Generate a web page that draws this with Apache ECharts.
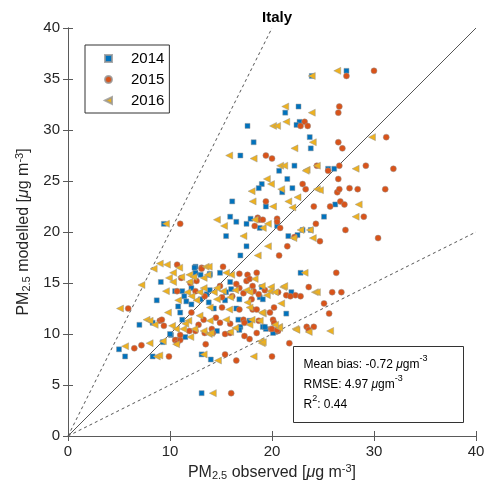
<!DOCTYPE html>
<html>
<head>
<meta charset="utf-8">
<script src="https://cdn.jsdelivr.net/npm/echarts@6/dist/echarts.min.js"></script>
<style>
  html, body { margin: 0; padding: 0; background: #fff; }
  #chart { width: 490px; height: 496px; }
</style>
</head>
<body>
<div id="chart"></div>
<script>
// PM2.5 modelled vs observed, Italy, three years of station data [observed, modelled]
const yearNames = ['2014', '2015', '2016'];

const obs2014 = [
  [27.3,35.8],[23.9,35.3],[22.6,32.3],[21.3,31.7],[22.7,30.8],[22.4,30.5],[23.7,29.3],[23.8,28.2],
  [22.2,26.5],[26.1,26.2],[25.5,26.2],[17.6,30.4],[18.2,28.8],[16.9,27.5],[20.7,26.0],[21.5,25.2],
  [19.0,24.7],[18.7,24.3],[22.0,24.3],[21.0,23.9],[16.1,23.0],[19.4,22.5],[26.2,22.7],[25.1,21.5],
  [15.9,21.5],[16.5,21.0],[17.5,20.8],[17.9,21.3],[18.8,20.4],[20.5,20.6],[23.0,20.2],[23.8,20.2],
  [9.4,20.8],[15.5,19.6],[21.6,19.6],[22.5,19.7],[17.5,18.6],[16.9,17.7],[12.5,16.6],[13.9,15.9],
  [9.1,15.1],[22.8,16.0],[21.9,14.1],[21.4,12.0],[7.0,10.9],[19.1,10.7],[19.4,10.5],[5.0,8.5],
  [5.6,7.8],[8.3,7.8],[9.3,9.2],[10.1,9.9],[11.5,9.7],[13.1,8.0],[14.0,7.5],[13.1,4.2],
  [19.0,14.6],[18.8,13.6],[17.8,11.3],[20.3,10.2],[12.4,16.5],[12.5,16.0],[13.9,15.8],[14.9,16.0],
  [15.9,15.1],[11.2,14.2],[11.4,13.7],[13.6,13.9],[13.9,14.3],[15.5,14.1],[16.0,14.4],[11.6,13.2],
  [12.1,12.9],[13.0,13.4],[13.8,13.1],[15.4,13.3],[16.8,13.4],[19.1,13.4],[14.3,12.5],[16.5,12.5],
  [8.7,13.3],[10.8,12.7],[11.0,12.1],[11.2,11.4],[16.7,11.4],[16.9,10.7],[19.3,10.7],[8.3,11.1],
  [14.6,10.3],[20.1,10.1],[16.8,10.4],[10.5,14.2],[12.1,14.5],[13.0,15.8],[10.0,10.0]
];

const obs2015 = [
  [27.3,35.3],[30.0,35.8],[26.6,32.3],[26.5,31.7],[23.2,30.8],[22.8,30.4],[23.5,30.4],[26.5,28.8],
  [26.9,28.2],[31.2,29.3],[26.6,26.5],[29.2,26.5],[31.9,26.2],[19.4,27.5],[20.0,27.2],[24.4,26.5],
  [25.5,26.0],[26.5,25.2],[23.0,24.7],[23.3,24.2],[26.4,23.9],[26.6,24.2],[27.6,24.3],[28.4,24.2],
  [31.1,24.2],[19.4,23.0],[24.1,22.5],[25.7,22.5],[26.7,23.0],[27.1,22.7],[29.0,21.5],[18.6,21.4],
  [18.8,21.2],[19.1,21.2],[18.3,20.6],[20.5,21.3],[20.5,21.0],[20.8,20.4],[24.3,20.8],[27.2,20.2],
  [11.0,20.8],[30.4,19.4],[22.2,19.5],[24.7,19.1],[21.5,18.6],[20.7,17.7],[10.7,16.8],[13.1,16.5],
  [15.2,16.6],[17.6,15.8],[18.5,16.0],[26.3,16.0],[5.9,12.5],[23.6,14.6],[25.9,14.1],[26.8,14.1],
  [21.4,13.8],[22.3,13.8],[21.8,13.7],[22.8,13.7],[20.2,12.6],[25.1,13.0],[25.6,12.0],[9.0,11.3],
  [10.6,9.4],[13.5,9.0],[19.9,10.5],[17.8,9.5],[21.7,9.1],[23.4,10.7],[23.6,10.4],[24.1,10.7],
  [6.5,8.6],[7.2,8.9],[9.9,7.8],[10.5,9.4],[10.7,9.1],[11.0,9.4],[11.0,9.9],[12.5,10.3],
  [15.4,8.0],[16.5,7.4],[16.0,4.2],[20.0,7.8],[18.1,14.7],[18.1,12.4],[20.1,11.4],[20.2,11.1],
  [20.0,10.5],[13.1,16.4],[11.1,15.5],[16.8,15.9],[17.5,15.2],[17.8,15.4],[16.5,14.9],[10.7,14.2],
  [12.5,14.2],[14.9,14.7],[16.1,13.7],[16.8,14.5],[17.2,14.0],[18.2,14.2],[18.7,13.9],[19.3,14.3],
  [20.6,14.1],[13.4,13.7],[15.1,13.6],[18.0,13.4],[15.1,12.6],[16.8,12.4],[18.5,12.4],[19.8,12.1],
  [9.2,11.4],[12.1,12.1],[13.3,11.4],[14.5,11.6],[14.9,11.1],[15.9,11.0],[17.2,11.4],[17.3,11.1],
  [18.7,11.3],[20.6,10.3],[12.8,10.9],[11.9,10.3],[9.4,10.8],[14.1,10.5],[15.4,10.0],[17.3,9.8],
  [18.5,10.1],[12.6,15.2],[12.0,15.0],[13.4,10.1],[14.2,10.1],[15.9,10.1],[20.5,10.4]
];

const obs2016 = [
  [23.9,35.3],[26.4,35.8],[21.3,32.3],[23.9,31.7],[21.4,30.8],[20.1,30.4],[20.5,30.4],[24.0,28.8],
  [22.2,28.2],[29.8,29.3],[24.4,26.5],[28.2,26.2],[23.4,26.1],[15.8,27.5],[18.2,27.2],[20.8,26.5],
  [21.2,26.5],[19.5,25.2],[19.9,24.7],[18.0,24.0],[20.9,24.2],[23.3,26.0],[24.4,24.2],[24.7,24.1],
  [18.1,23.0],[20.1,22.5],[21.6,23.0],[22.5,23.4],[22.0,22.4],[28.5,22.7],[28.2,21.5],[14.6,21.2],
  [15.3,20.6],[18.3,21.2],[19.1,20.4],[19.6,20.8],[22.8,20.2],[23.7,20.2],[9.6,20.8],[17.2,19.6],
  [22.1,19.4],[24.0,19.4],[19.6,18.6],[18.6,17.7],[9.0,16.9],[9.7,16.8],[13.5,16.6],[10.3,16.0],
  [11.1,15.6],[16.0,15.8],[23.2,16.0],[7.2,14.8],[24.2,14.1],[21.1,14.6],[19.5,13.8],[20.9,13.0],
  [5.1,12.5],[7.7,11.4],[8.0,11.3],[8.5,10.9],[20.7,10.7],[18.9,9.3],[22.3,10.5],[25.7,10.3],
  [5.6,8.8],[8.0,9.1],[8.7,7.8],[8.95,7.9],[9.3,9.3],[10.6,9.0],[12.0,9.7],[13.3,8.0],
  [14.7,7.4],[14.2,4.2],[18.2,7.8],[19.0,9.1],[19.9,14.6],[21.2,14.7],[24.4,14.1],[19.1,12.0],
  [18.8,11.3],[20.7,10.6],[19.1,9.2],[8.4,16.4],[10.9,16.5],[13.8,16.6],[9.9,15.5],[10.3,15.1],
  [11.9,15.8],[11.9,15.1],[13.3,15.5],[15.5,16.0],[18.3,15.4],[9.6,14.2],[11.7,14.1],[12.1,13.7],
  [12.9,14.1],[13.3,14.5],[14.3,14.1],[14.6,14.5],[15.2,14.2],[16.4,14.3],[17.5,14.3],[17.8,14.1],
  [19.0,14.7],[19.8,14.2],[20.3,14.1],[10.8,13.3],[12.6,13.3],[14.6,13.4],[15.9,13.6],[17.6,13.1],
  [13.9,12.6],[15.8,12.4],[17.8,12.6],[19.0,12.1],[9.8,12.1],[11.8,11.3],[12.9,11.8],[13.9,11.3],
  [15.5,11.4],[17.8,10.9],[18.0,11.4],[16.4,10.6],[20.3,10.9],[12.4,10.5],[11.5,11.0],[11.3,10.5],
  [10.2,10.8],[10.6,10.5],[13.3,10.3],[13.8,10.0],[15.9,10.2],[12.3,15.6],[13.7,15.8],[22.4,10.4],
  [23.6,10.2],[14.0,10.1]
];

// Reference lines: 1:1, 2:1 and 1:2
const lineOneToOne = [[0, 0], [40, 40]];
const lineTwoToOne = [[0, 0], [20, 40]];
const lineOneToTwo = [[0, 0], [40, 20]];

const axisTicks = { min: 0, max: 40 };
const xInterval = 10;
const yInterval = 5;

const statLines = ['Mean bias: -0.72 ', 'RMSE: 4.97 ', ': 0.44'];

const FONT = 'Liberation Sans, Arial, sans-serif';
const colors = ['#0072BD', '#D95319', '#EDB120'];
const edge = 'rgba(150,150,150,0.8)';
// left-pointing triangle for the 2016 legend entry
const leftTriangle = 'path://M0,5L10,0L10,10Z';

const chart = echarts.init(document.getElementById('chart'), null, { renderer: 'canvas' });

const axisCommon = {
  min: axisTicks.min, max: axisTicks.max,
  axisLine: { show: true, lineStyle: { color: '#5a5a5a', width: 1 } },
  axisTick: { show: true, inside: true, length: 5, lineStyle: { color: '#5a5a5a' } },
  splitLine: { show: false },
  axisLabel: { fontFamily: FONT, fontSize: 15, color: '#262626' }
};

const subRich = {
  n: { fontFamily: FONT, fontSize: 16, color: '#262626', lineHeight: 18 },
  sub: { fontFamily: FONT, fontSize: 11, color: '#262626', lineHeight: 6, verticalAlign: 'bottom' },
  sup: { fontFamily: FONT, fontSize: 11, color: '#262626', lineHeight: 8, verticalAlign: 'top' },
  mu: { fontFamily: FONT, fontSize: 16, color: '#262626', lineHeight: 18, fontStyle: 'italic' }
};

chart.setOption({
  animation: false,
  backgroundColor: '#fff',
  title: {
    text: 'Italy', left: 272, top: 5, textAlign: 'center',
    textStyle: { fontFamily: FONT, fontSize: 15, fontWeight: 'bold', color: '#000' }
  },
  grid: { left: 68, right: 14, top: 28, bottom: 60 },
  legend: {
    orient: 'vertical', left: 85, top: 45,
    data: [
      { name: yearNames[0], icon: 'rect' },
      { name: yearNames[1], icon: 'circle' },
      { name: yearNames[2], icon: leftTriangle }
    ],
    backgroundColor: '#fff',
    borderColor: '#333', borderWidth: 1,
    padding: [6, 5, 5, 19],
    itemWidth: 7, itemHeight: 7, itemGap: 6,
    textStyle: { fontFamily: FONT, fontSize: 15, color: '#000', lineHeight: 14, padding: [0, 0, 0, 14] }
  },
  xAxis: [
    Object.assign({}, axisCommon, {
      type: 'value', position: 'bottom', interval: xInterval,
      name: '{n|PM}{sub|2.5}{n| observed [}{mu|μ}{n|g m}{sup|-3}{n|]}',
      nameLocation: 'middle', nameGap: 20,
      nameTextStyle: { rich: subRich }
    }),
    Object.assign({}, axisCommon, {
      type: 'value', position: 'top', interval: xInterval,
      axisLabel: { show: false }
    })
  ],
  yAxis: [
    Object.assign({}, axisCommon, {
      type: 'value', position: 'left', interval: yInterval,
      name: '{n|PM}{sub|2.5}{n| modelled [}{mu|μ}{n|g m}{sup|-3}{n|]}',
      nameLocation: 'middle', nameGap: 34, nameRotate: 90,
      nameTextStyle: { rich: subRich }
    }),
    Object.assign({}, axisCommon, {
      type: 'value', position: 'right', interval: yInterval,
      axisLabel: { show: false }
    })
  ],
  series: [
    {
      name: '2014', type: 'scatter', data: obs2014,
      symbol: 'rect', symbolSize: 5,
      itemStyle: { color: colors[0], borderColor: edge, borderWidth: 0.6, opacity: 1 }
    },
    {
      name: '2015', type: 'scatter', data: obs2015,
      symbol: 'circle', symbolSize: 6,
      itemStyle: { color: colors[1], borderColor: edge, borderWidth: 0.6, opacity: 1 }
    },
    {
      name: '2016', type: 'scatter', data: obs2016,
      symbol: 'triangle', symbolSize: [7, 7], symbolRotate: 90,
      itemStyle: { color: colors[2], borderColor: edge, borderWidth: 0.6, opacity: 1 }
    },
    {
      type: 'line', data: lineOneToOne, symbol: 'none', silent: true, z: 1,
      lineStyle: { color: '#555', width: 1 }
    },
    {
      type: 'line', data: lineTwoToOne, symbol: 'none', silent: true, z: 1,
      lineStyle: { color: '#555', width: 1, type: [3, 3] }
    },
    {
      type: 'line', data: lineOneToTwo, symbol: 'none', silent: true, z: 1,
      lineStyle: { color: '#555', width: 1, type: [3, 3] }
    }
  ],
  graphic: [
    {
      type: 'group', left: 293, top: 346, z: 100,
      children: [
        {
          type: 'rect', shape: { x: 0, y: 0, width: 170, height: 76 },
          style: { fill: '#fff', stroke: '#333', lineWidth: 1 }
        },
        {
          type: 'text', x: 10, y: 8,
          style: {
            text: '{t|' + statLines[0] + '}{mu|μ}{t|gm}{sup|-3}\n' +
                  '{t|' + statLines[1] + '}{mu|μ}{t|gm}{sup|-3}\n' +
                  '{t|R}{sup|2}{t|' + statLines[2] + '}',
            rich: {
              t: { fontFamily: FONT, fontSize: 12, fill: '#000', lineHeight: 20 },
              mu: { fontFamily: FONT, fontSize: 12, fill: '#000', lineHeight: 20, fontStyle: 'italic' },
              sup: { fontFamily: FONT, fontSize: 9, fill: '#000', lineHeight: 10, verticalAlign: 'top' }
            }
          }
        }
      ]
    }
  ]
});
</script>
</body>
</html>
